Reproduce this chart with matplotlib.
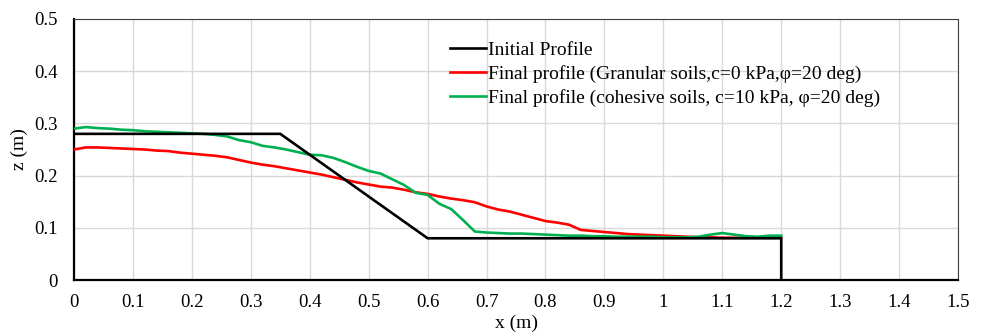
import matplotlib

matplotlib.use("Agg")
import matplotlib.pyplot as plt

plt.rcParams["font.family"] = ["Liberation Serif", "DejaVu Serif"]

# Initial slope geometry
init_x = [0.0, 0.35, 0.6, 1.2, 1.2]
init_z = [0.28, 0.28, 0.08, 0.08, 0.0]

# Final profile sampling points
x_final = [round(0.02 * i, 2) for i in range(61)]

granular_z = [
    0.250, 0.254, 0.254, 0.253, 0.252, 0.251, 0.250, 0.248, 0.247, 0.244,
    0.242, 0.240, 0.238, 0.235, 0.230, 0.225, 0.221, 0.218, 0.214, 0.210,
    0.206, 0.202, 0.197, 0.192, 0.187, 0.183, 0.179, 0.177, 0.173, 0.168,
    0.165, 0.160, 0.156, 0.153, 0.149, 0.141, 0.135, 0.131, 0.125, 0.119,
    0.113, 0.110, 0.106, 0.096, 0.094, 0.092, 0.090, 0.088, 0.087, 0.086,
    0.085, 0.084, 0.083, 0.082, 0.082, 0.081, 0.081, 0.081, 0.081, 0.081,
    0.081,
]

cohesive_z = [
    0.290, 0.293, 0.291, 0.290, 0.288, 0.287, 0.285, 0.284, 0.283, 0.282,
    0.281, 0.280, 0.278, 0.275, 0.268, 0.264, 0.257, 0.254, 0.250, 0.245,
    0.240, 0.239, 0.234, 0.226, 0.217, 0.209, 0.204, 0.193, 0.182, 0.167,
    0.163, 0.146, 0.136, 0.115, 0.093, 0.091, 0.090, 0.089, 0.089, 0.088,
    0.087, 0.086, 0.085, 0.085, 0.084, 0.084, 0.083, 0.083, 0.083, 0.083,
    0.082, 0.082, 0.082, 0.083, 0.087, 0.090, 0.087, 0.084, 0.083, 0.085,
    0.085,
]

labels = [
    "Initial Profile",
    "Final profile (Granular soils,c=0 kPa,\u03c6=20 deg)",
    "Final profile (cohesive soils, c=10 kPa, \u03c6=20 deg)",
]

x_ticks = [round(0.1 * i, 1) for i in range(16)]
x_tick_labels = ["0", "0.1", "0.2", "0.3", "0.4", "0.5", "0.6", "0.7", "0.8",
                 "0.9", "1", "1.1", "1.2", "1.3", "1.4", "1.5"]
y_ticks = [0.0, 0.1, 0.2, 0.3, 0.4, 0.5]
y_tick_labels = ["0", "0.1", "0.2", "0.3", "0.4", "0.5"]

fig = plt.figure(figsize=(9.83, 3.33), dpi=100)
ax = fig.add_axes([0.0753, 0.159, 0.8993, 0.784])

ax.plot(init_x, init_z, color="black", lw=1.9, label=labels[0], zorder=4)
ax.plot(x_final, granular_z, color="#ff0000", lw=1.9, label=labels[1], zorder=3)
ax.plot(x_final, cohesive_z, color="#00b050", lw=1.9, label=labels[2], zorder=3)

ax.set_xlim(0, 1.5)
ax.set_ylim(0, 0.5)
ax.set_xticks(x_ticks)
ax.set_xticklabels(x_tick_labels)
ax.set_yticks(y_ticks)
ax.set_yticklabels(y_tick_labels)
ax.tick_params(axis="x", length=0, labelsize=13.5, pad=10)
ax.tick_params(axis="y", length=0, labelsize=13.5, pad=12)
ax.grid(True, color="#d9d9d9", lw=1.0, zorder=0)
ax.set_axisbelow(True)

for side in ["top", "right"]:
    ax.spines[side].set_color("#404040")
    ax.spines[side].set_linewidth(0.8)
for side in ["left", "bottom"]:
    ax.spines[side].set_color("black")
    ax.spines[side].set_linewidth(1.6)

ax.set_xlabel("x (m)", fontsize=14, labelpad=3)
ax.set_ylabel("z (m)", fontsize=14, labelpad=4)

ax.legend(loc="upper left", bbox_to_anchor=(0.416, 0.944), frameon=False,
          fontsize=14, handlelength=1.9, handletextpad=0.1,
          labelspacing=0.32, borderaxespad=0)

fig.savefig("out.png", dpi=100)
plt.close(fig)
